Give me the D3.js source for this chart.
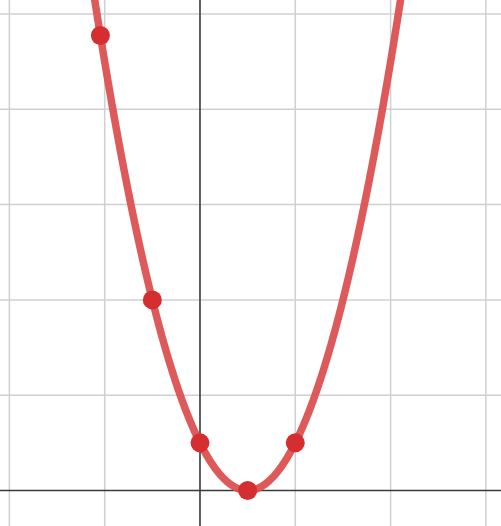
<!DOCTYPE html>
<html>
<head>
<meta charset="utf-8">
<script src="https://cdn.jsdelivr.net/npm/d3@7"></script>
<style>
html,body{margin:0;padding:0;background:#fff;overflow:hidden;}
svg{display:block;}
</style>
</head>
<body>
<svg id="chart" width="501" height="526"></svg>
<script>
// Data
const pointX = [-2.09, -1, 0, 1, 2];
const pointY = [9.55, 4, 1, 0, 1];
// curve y = c0 + c1*x + c2*x^2 (parabola through the points)
const curveCoef = [1, -2, 1];
const xTicks = [-4, -2, 0, 2, 4, 6];
const yTicks = [0, 2, 4, 6, 8, 10];
const xDomain = [-4.197, 6.317];
const yDomain = [-0.745, 10.294];

const W = 501, H = 526;
const svg = d3.select("#chart");
const x = d3.scaleLinear().domain(xDomain).range([0, W]);
const y = d3.scaleLinear().domain(yDomain).range([H, 0]);

// grid
svg.append("g").selectAll("line").data(xTicks.filter(d => d !== 0)).join("line")
  .attr("x1", d => x(d)).attr("x2", d => x(d)).attr("y1", 0).attr("y2", H)
  .attr("stroke", "#d0d0d0").attr("stroke-width", 1.5);
svg.append("g").selectAll("line").data(yTicks.filter(d => d !== 0)).join("line")
  .attr("y1", d => y(d)).attr("y2", d => y(d)).attr("x1", 0).attr("x2", W)
  .attr("stroke", "#d0d0d0").attr("stroke-width", 1.5);

// axes
svg.append("line").attr("x1", 0).attr("x2", W).attr("y1", y(0)).attr("y2", y(0))
  .attr("stroke", "#3a3a3a").attr("stroke-width", 1.6);
svg.append("line").attr("x1", x(0)).attr("x2", x(0)).attr("y1", 0).attr("y2", H)
  .attr("stroke", "#3a3a3a").attr("stroke-width", 1.6);

// curve
const f = t => curveCoef[0] + curveCoef[1] * t + curveCoef[2] * t * t;
const xs = d3.range(xDomain[0], xDomain[1], 0.01);
const line = d3.line().x(d => x(d)).y(d => y(f(d))).curve(d3.curveLinear);
svg.append("path").datum(xs).attr("d", line)
  .attr("fill", "none").attr("stroke", "#dc5050").attr("stroke-opacity", 0.95)
  .attr("stroke-width", 7.5).attr("stroke-linejoin", "round");

// points
svg.append("g").selectAll("circle").data(pointX.map((d, i) => [d, pointY[i]])).join("circle")
  .attr("cx", d => x(d[0])).attr("cy", d => y(d[1])).attr("r", 9.5)
  .attr("fill", "#d52e30");
</script>
</body>
</html>
